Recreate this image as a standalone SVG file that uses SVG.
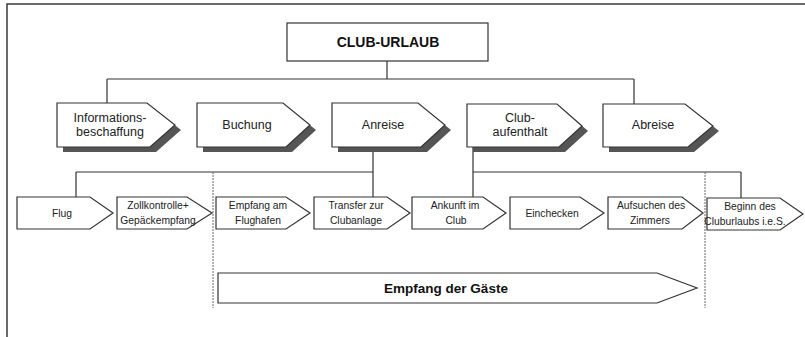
<svg xmlns="http://www.w3.org/2000/svg" width="805" height="337" viewBox="0 0 805 337">
<style>
.frame{fill:none;stroke:#3a3a3a;stroke-width:1.5}
.ln{fill:none;stroke:#333;stroke-width:1.2}
.sep{fill:none;stroke:#666;stroke-width:1;stroke-dasharray:2,1}
.box{fill:#fff;stroke:#333;stroke-width:1.2}
.shd{fill:#555;stroke:none}
.t1{font-family:"Liberation Sans",Arial,sans-serif;font-size:12.5px;fill:#222;text-anchor:middle}
.t2{font-family:"Liberation Sans",Arial,sans-serif;font-size:10.3px;fill:#222;text-anchor:middle}
.tb{font-family:"Liberation Sans",Arial,sans-serif;font-weight:bold;fill:#111;text-anchor:middle}
</style>
<rect width="805" height="337" fill="#fff"/>
<path class="frame" d="M7,337 V4 H805"/>
<g id="connectors">
<path class="ln" d="M387,61 V79 M107,79 H634 M107,79 V103 M634,79 V104"/>
<path class="ln" d="M373,147 V172 M76,172 H373 M76,172 V197 M373,172 V197"/>
<path class="ln" d="M473,147 V172 M473,172 H741 M473,172 V197 M741,172 V198"/>
<path class="sep" d="M213,172 V308 M705,172 V308"/>
</g>
<g id="club-urlaub">
<rect class="box" x="287" y="23" width="201" height="38"/>
<text class="tb" x="388" y="47" font-size="14">CLUB-URLAUB</text>
</g>
<g id="informationsbeschaffung">
<polygon class="shd" points="63,108 153,108 181,130 156,152 63,152"/>
<polygon class="box" points="57,103 147,103 175,125 150,147 57,147"/>
<text class="t1" x="110" y="122">Informations-</text>
<text class="t1" x="110" y="136">beschaffung</text>
</g>
<g id="buchung">
<polygon class="shd" points="203,108 289,108 316,130 292,152 203,152"/>
<polygon class="box" points="197,103 283,103 310,125 286,147 197,147"/>
<text class="t1" x="247" y="129">Buchung</text>
</g>
<g id="anreise">
<polygon class="shd" points="338,108 424,108 451,130 427,152 338,152"/>
<polygon class="box" points="332,103 418,103 445,125 421,147 332,147"/>
<text class="t1" x="383" y="129">Anreise</text>
</g>
<g id="clubaufenthalt">
<polygon class="shd" points="473,109 563,109 588,131 565,152 473,152"/>
<polygon class="box" points="467,104 557,104 582,126 559,147 467,147"/>
<text class="t1" x="520" y="122">Club-</text>
<text class="t1" x="520" y="136">aufenthalt</text>
</g>
<g id="abreise">
<polygon class="shd" points="609,109 691,109 719,131 694,152 609,152"/>
<polygon class="box" points="603,104 685,104 713,126 688,147 603,147"/>
<text class="t1" x="653" y="129">Abreise</text>
</g>
<g id="flug">
<polygon class="box" points="17,197 90,197 113,213 90,229 17,229"/>
<text class="t2" x="62" y="217">Flug</text>
</g>
<g id="zollkontrolle">
<polygon class="box" points="117,197 187,197 212,213 187,229 117,229"/>
<text class="t2" x="158" y="209">Zollkontrolle+</text>
<text class="t2" x="158" y="224">Gepäckempfang</text>
</g>
<g id="empfang-flughafen">
<polygon class="box" points="216,197 286,197 310,213 286,229 216,229"/>
<text class="t2" x="258" y="209">Empfang am</text>
<text class="t2" x="258" y="224">Flughafen</text>
</g>
<g id="transfer">
<polygon class="box" points="314,197 387,197 410,213 387,229 314,229"/>
<text class="t2" x="356" y="209">Transfer zur</text>
<text class="t2" x="356" y="224">Clubanlage</text>
</g>
<g id="ankunft">
<polygon class="box" points="412,197 483,197 506,213 483,229 412,229"/>
<text class="t2" x="455" y="209">Ankunft im</text>
<text class="t2" x="456" y="224">Club</text>
</g>
<g id="einchecken">
<polygon class="box" points="510,197 580,197 604,213 580,229 510,229"/>
<text class="t2" x="552" y="217">Einchecken</text>
</g>
<g id="aufsuchen">
<polygon class="box" points="608,197 682,197 703,213 682,229 608,229"/>
<text class="t2" x="651" y="209">Aufsuchen des</text>
<text class="t2" x="650" y="224">Zimmers</text>
</g>
<g id="beginn">
<polygon class="box" points="707,198 780,198 803,214 780,230 707,230"/>
<text class="t2" x="750" y="210">Beginn des</text>
<text class="t2" x="745" y="225">Cluburlaubs i.e.S.</text>
</g>
<g id="empfang-der-gaeste">
<polygon class="box" points="218,273 657,273 697,288 657,303 218,303"/>
<text class="tb" x="446" y="293" font-size="13.5">Empfang der Gäste</text>
</g>
</svg>
